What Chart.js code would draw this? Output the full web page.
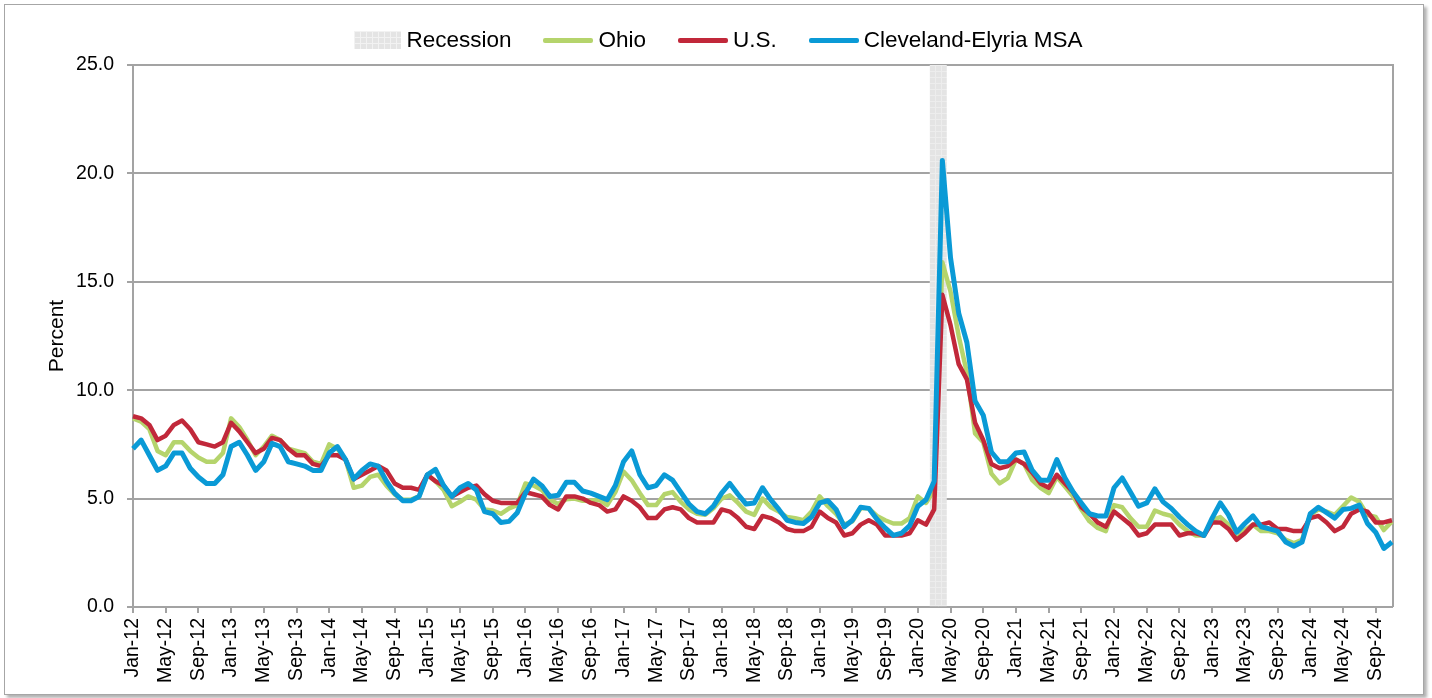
<!DOCTYPE html>
<html>
<head>
<meta charset="utf-8">
<title>Unemployment rate</title>
<script src="https://cdn.jsdelivr.net/npm/chart.js@4.4.1/dist/chart.umd.min.js"></script>
<style>
  body { margin: 0; background: #fff; font-family: 'Liberation Sans', Arial, sans-serif; }
  .frame {
    position: absolute; left: 4px; top: 4px; width: 1420px; height: 691px;
    box-sizing: border-box; border: 1px solid #a6a6a6;
    box-shadow: 3px 3px 3px rgba(0, 0, 0, 0.3); background: #fff;
  }
  .chart { position: absolute; left: 0; top: 0; width: 1418px; height: 689px; }
  .legend {
    position: absolute; left: 0; top: 23px; width: 100%; box-sizing: border-box;
    padding-left: 9px;
    display: flex; justify-content: center; align-items: center;
    font-size: 22.5px; line-height: 24px; color: #000;
  }
  .legend .item { display: flex; align-items: center; margin-right: 32px; }
  .legend .item:last-child { margin-right: 0; }
  .legend .sw { display: inline-block; margin-right: 5px; }
  .legend .line { width: 50px; height: 5px; border-radius: 2px; }
  .legend .box {
    width: 47px; height: 18px; background-color: #e4e4e4;
    background-image: linear-gradient(to right, #f2f2f2 1px, transparent 1px),
                      linear-gradient(to bottom, #f2f2f2 1px, transparent 1px);
    background-size: 6px 6px;
  }
</style>
</head>
<body>
<div class="frame">
  <div class="chart"><canvas id="chart"></canvas></div>
  <div class="legend" id="legend"></div>
</div>
<script>
const monthNames = ['Jan', 'Feb', 'Mar', 'Apr', 'May', 'Jun', 'Jul', 'Aug', 'Sep', 'Oct', 'Nov', 'Dec'];
const years = [12, 13, 14, 15, 16, 17, 18, 19, 20, 21, 22, 23, 24];
const lastMonth = 'Nov-24';
const recessionMonths = ['Mar-20', 'Apr-20'];

const ohio = [
  8.7, 8.55, 8.2, 7.2, 7.0, 7.6, 7.6, 7.2, 6.9, 6.7, 6.7, 7.1,
  8.7, 8.3, 7.7, 7.0, 7.4, 7.9, 7.7, 7.3, 7.2, 7.1, 6.7, 6.6,
  7.5, 7.3, 6.8, 5.5, 5.6, 6.0, 6.1, 5.6, 5.2, 4.95, 4.95, 5.1,
  6.1, 5.8, 5.4, 4.65, 4.85, 5.1, 4.95, 4.5, 4.45, 4.3, 4.55, 4.7,
  5.7, 5.6, 5.4, 4.95, 4.75, 4.97, 5.0, 4.9, 4.9, 4.95, 4.7, 5.3,
  6.25, 5.85, 5.25, 4.7, 4.7, 5.2, 5.3, 4.85, 4.5, 4.3, 4.25, 4.55,
  5.0, 5.15, 4.8, 4.4, 4.25, 5.0, 4.6, 4.4, 4.15, 4.1, 4.0, 4.4,
  5.1, 4.65, 4.3, 3.8, 3.95, 4.55, 4.55, 4.2, 4.0, 3.85, 3.85, 4.1,
  5.1, 4.8, 5.4, 15.9, 14.55, 12.5, 10.8, 8.0, 7.6, 6.15, 5.7, 5.95,
  6.8, 6.6, 5.85, 5.5, 5.25, 6.0, 5.55, 5.1, 4.5, 3.95, 3.65, 3.5,
  4.7, 4.6, 4.1, 3.7, 3.7, 4.45, 4.3, 4.2, 3.8, 3.5, 3.3, 3.3,
  4.0, 4.15, 3.8, 3.15, 3.55, 3.8, 3.5, 3.5, 3.4, 3.1, 2.95, 3.1,
  4.25, 4.5, 4.4, 4.25, 4.65, 5.05, 4.85, 4.25, 4.15, 3.55, 3.95
];

const us = [
  8.8, 8.7, 8.4, 7.7, 7.9, 8.4, 8.6, 8.2, 7.6, 7.5, 7.4, 7.6,
  8.5, 8.1, 7.6, 7.1, 7.3, 7.8, 7.7, 7.3, 7.0, 7.0, 6.6, 6.5,
  7.0, 7.0, 6.8, 5.9, 6.1, 6.3, 6.5, 6.3, 5.7, 5.5, 5.5, 5.4,
  6.1, 5.8, 5.6, 5.1, 5.3, 5.5, 5.6, 5.2, 4.9, 4.8, 4.8, 4.8,
  5.3, 5.2, 5.1, 4.7, 4.5, 5.1, 5.1, 5.0, 4.8, 4.7, 4.4, 4.5,
  5.1, 4.9, 4.6, 4.1, 4.1, 4.5, 4.6, 4.5, 4.1, 3.9, 3.9, 3.9,
  4.5, 4.4, 4.1, 3.7, 3.6, 4.2, 4.1, 3.9, 3.6, 3.5, 3.5, 3.7,
  4.4, 4.1, 3.9, 3.3, 3.4, 3.8, 4.0, 3.8, 3.3, 3.3, 3.3, 3.4,
  4.0, 3.8, 4.5, 14.4, 13.0, 11.2, 10.5, 8.5, 7.7, 6.6, 6.4, 6.5,
  6.8, 6.6, 6.2, 5.7, 5.5, 6.1, 5.7, 5.3, 4.6, 4.3, 3.9, 3.7,
  4.4, 4.1, 3.8, 3.3, 3.4, 3.8, 3.8, 3.8, 3.3, 3.4, 3.4, 3.3,
  3.9, 3.9, 3.6, 3.1, 3.4, 3.8, 3.8, 3.9, 3.6, 3.6, 3.5, 3.5,
  4.1, 4.2, 3.9, 3.5, 3.7, 4.3, 4.5, 4.4, 3.9, 3.9, 4.0
];

const cleveland = [
  7.3, 7.7, 7.0, 6.3, 6.5, 7.1, 7.1, 6.4, 6.0, 5.7, 5.7, 6.1,
  7.4, 7.6, 7.0, 6.3, 6.7, 7.55, 7.4, 6.7, 6.6, 6.5, 6.3, 6.3,
  7.1, 7.4, 6.8, 5.9, 6.3, 6.6, 6.5, 5.8, 5.25, 4.9, 4.9, 5.1,
  6.1, 6.35, 5.6, 5.1, 5.5, 5.7, 5.4, 4.4, 4.3, 3.9, 3.95, 4.35,
  5.25, 5.9, 5.6, 5.1, 5.15, 5.75, 5.75, 5.35, 5.25, 5.1, 4.95, 5.6,
  6.7, 7.2, 6.1, 5.5, 5.6, 6.1, 5.85, 5.3, 4.75, 4.4, 4.3, 4.65,
  5.25, 5.7, 5.2, 4.75, 4.8, 5.5, 4.95, 4.5, 4.0, 3.9, 3.85, 4.15,
  4.8, 4.9, 4.5, 3.7, 4.0, 4.6, 4.55, 4.05, 3.65, 3.3, 3.4, 3.75,
  4.65, 4.95, 5.8, 20.6, 16.1, 13.55, 12.2, 9.5, 8.85, 7.15, 6.7, 6.7,
  7.1, 7.15, 6.3, 5.85, 5.85, 6.8, 5.95, 5.3, 4.8, 4.3, 4.2, 4.2,
  5.5, 5.95, 5.3, 4.65, 4.8, 5.45, 4.85, 4.55, 4.15, 3.8, 3.5, 3.3,
  4.1, 4.8, 4.25, 3.45, 3.85, 4.2, 3.7, 3.6, 3.5, 3.0, 2.8, 3.0,
  4.3, 4.6, 4.35, 4.1, 4.5, 4.55, 4.7, 3.85, 3.45, 2.7, 3.0
];

const yMin = 0;
const yMax = 25;
const yStep = 5;

// month labels Jan-12 .. Nov-24
const labels = [];
for (const y of years) {
  for (const m of monthNames) {
    const lab = m + '-' + y;
    if (labels.length && labels[labels.length - 1] === lastMonth) break;
    labels.push(lab);
  }
}
const recession = labels.map(l => recessionMonths.includes(l) ? yMax : null);

function makePattern() {
  const c = document.createElement('canvas');
  c.width = 6;
  c.height = 6;
  const g = c.getContext('2d');
  g.fillStyle = '#e4e4e4';
  g.fillRect(0, 0, 6, 6);
  g.fillStyle = '#ededed';
  g.fillRect(0, 0, 6, 1);
  g.fillRect(0, 0, 1, 6);
  return g.createPattern(c, 'repeat');
}

const gridColor = '#a3a3a3';
const tickFont = { family: "'Liberation Sans', Arial, sans-serif", size: 19.5 };

// legend built in html from the datasets
const htmlLegend = {
  id: 'htmlLegend',
  afterUpdate(chart) {
    const box = document.getElementById('legend');
    box.innerHTML = '';
    chart.data.datasets.forEach(ds => {
      const item = document.createElement('div');
      item.className = 'item';
      const sw = document.createElement('span');
      if (ds.type === 'bar') {
        sw.className = 'sw box';
      } else {
        sw.className = 'sw line';
        sw.style.background = ds.borderColor;
      }
      const tx = document.createElement('span');
      tx.textContent = ds.label;
      item.append(sw, tx);
      box.append(item);
    });
  }
};

// right border of the plot area
const rightBorder = {
  id: 'rightBorder',
  beforeDatasetsDraw(chart) {
    const { ctx, chartArea } = chart;
    ctx.save();
    ctx.strokeStyle = gridColor;
    ctx.lineWidth = 2;
    ctx.beginPath();
    ctx.moveTo(chartArea.right + 1, chartArea.top - 1);
    ctx.lineTo(chartArea.right + 1, chartArea.bottom);
    ctx.stroke();
    ctx.restore();
  }
};

const ctx = document.getElementById('chart');

new Chart(ctx, {
  type: 'line',
  data: {
    labels: labels,
    datasets: [
      {
        type: 'bar',
        label: 'Recession',
        data: recession,
        backgroundColor: makePattern(),
        borderWidth: 0,
        barPercentage: 1,
        categoryPercentage: 1,
        order: 4
      },
      {
        label: 'Ohio',
        data: ohio,
        borderColor: '#b5d46c',
        backgroundColor: '#b5d46c',
        borderWidth: 4.5,
        order: 3
      },
      {
        label: 'U.S.',
        data: us,
        borderColor: '#c1283a',
        backgroundColor: '#c1283a',
        borderWidth: 4.5,
        order: 2
      },
      {
        label: 'Cleveland-Elyria MSA',
        data: cleveland,
        borderColor: '#0a9ad6',
        backgroundColor: '#0a9ad6',
        borderWidth: 5,
        order: 1
      }
    ]
  },
  options: {
    responsive: true,
    maintainAspectRatio: false,
    animation: false,
    layout: {
      padding: { left: 0, right: 31, top: 60, bottom: 0 }
    },
    elements: {
      point: { radius: 0 },
      line: { tension: 0, borderJoinStyle: 'round', borderCapStyle: 'butt' }
    },
    scales: {
      x: {
        offset: false,
        afterFit: (scale) => { scale.height = 87; },
        grid: {
          drawOnChartArea: false,
          offset: false,
          color: gridColor,
          lineWidth: 2,
          tickLength: 6
        },
        border: { color: gridColor, width: 2 },
        ticks: {
          autoSkip: false,
          maxRotation: 90,
          minRotation: 90,
          padding: 5,
          color: '#000',
          font: tickFont,
          callback: function (value, index) {
            return index % 4 === 0 ? labels[index] : null;
          }
        }
      },
      y: {
        min: yMin,
        max: yMax,
        afterFit: (scale) => { scale.width = 128; },
        grid: {
          color: gridColor,
          lineWidth: 2,
          tickLength: 6
        },
        border: { color: gridColor, width: 2 },
        ticks: {
          stepSize: yStep,
          padding: 13,
          color: '#000',
          font: tickFont,
          callback: (v) => v.toFixed(1)
        },
        title: {
          display: true,
          text: 'Percent',
          color: '#000',
          font: { family: "'Liberation Sans', Arial, sans-serif", size: 21 },
          padding: { top: 40, bottom: 0 }
        }
      }
    },
    plugins: {
      legend: { display: false },
      tooltip: { enabled: false }
    }
  },
  plugins: [htmlLegend, rightBorder]
});
</script>
</body>
</html>
